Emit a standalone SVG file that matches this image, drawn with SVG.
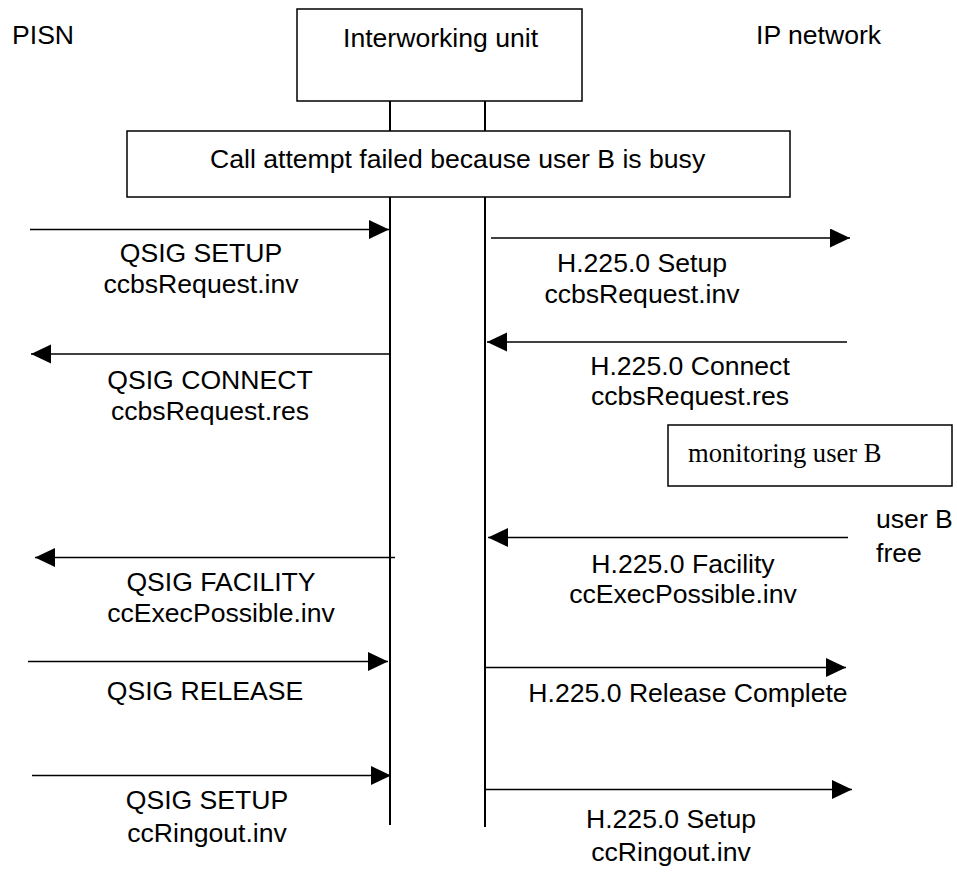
<svg xmlns="http://www.w3.org/2000/svg" width="957" height="872" viewBox="0 0 957 872">
<style>
  .t{font-family:"Liberation Sans",Arial,sans-serif;font-size:26.6px;fill:#000}
  .c{text-anchor:middle}
  .s{font-family:"Liberation Serif","Times New Roman",serif;font-size:26.6px;fill:#000}
  .box{fill:#fff;stroke:#000;stroke-width:1.5}
  .life{stroke:#000;stroke-width:2;fill:none}
  .msg{stroke:#000;stroke-width:1.5;fill:none;marker-end:url(#ah)}
</style>
<defs>
  <marker id="ah" markerUnits="userSpaceOnUse" markerWidth="22" markerHeight="20" refX="20" refY="9.5" orient="auto">
    <path d="M0,0 L20,9.5 L0,19 Z" fill="#000"/>
  </marker>
</defs>
<rect width="957" height="872" fill="#fff"/>

<g id="pisn"><text class="t" x="12" y="44">PISN</text></g>
<g id="ipnet"><text class="t" x="756" y="44">IP network</text></g>

<g id="iwu">
  <rect class="box" x="297" y="9" width="285" height="92"/>
  <text class="t" x="343" y="47">Interworking unit</text>
</g>

<g id="lifelines">
  <line class="life" x1="390" y1="101" x2="390" y2="131"/>
  <line class="life" x1="485" y1="101" x2="485" y2="131"/>
  <line class="life" x1="390" y1="197" x2="390" y2="825"/>
  <line class="life" x1="485" y1="197" x2="485" y2="827"/>
</g>

<g id="busy">
  <rect class="box" x="127" y="131" width="663" height="66"/>
  <text class="t" x="210" y="168">Call attempt failed because user B is busy</text>
</g>

<g id="monitor">
  <rect class="box" x="668" y="425" width="284" height="61"/>
  <text class="s" x="688" y="462">monitoring user B</text>
</g>

<g id="userfree">
  <text class="t" x="876" y="528">user B</text>
  <text class="t" x="876" y="562">free</text>
</g>

<g id="connectors">
  <line class="msg" x1="30" y1="229.5" x2="389" y2="229.5"/>
  <line class="msg" x1="390" y1="354" x2="31" y2="354"/>
  <line class="msg" x1="491" y1="238" x2="850" y2="238"/>
  <line class="msg" x1="847" y1="342" x2="487" y2="342"/>
  <line class="msg" x1="848" y1="537.5" x2="488" y2="537.5"/>
  <line class="msg" x1="395" y1="557.5" x2="35" y2="557.5"/>
  <line class="msg" x1="28" y1="661.5" x2="388" y2="661.5"/>
  <line class="msg" x1="485" y1="667.5" x2="846" y2="667.5"/>
  <line class="msg" x1="32" y1="775.5" x2="391" y2="775.5"/>
  <line class="msg" x1="485" y1="789.5" x2="852" y2="789.5"/>
</g>

<g id="labels">
  <text class="t c" x="201" y="262">QSIG SETUP</text>
  <text class="t c" x="201" y="293">ccbsRequest.inv</text>
  <text class="t c" x="210" y="389">QSIG CONNECT</text>
  <text class="t c" x="210" y="420">ccbsRequest.res</text>
  <text class="t c" x="642" y="272">H.225.0 Setup</text>
  <text class="t c" x="642" y="303">ccbsRequest.inv</text>
  <text class="t c" x="690" y="375">H.225.0 Connect</text>
  <text class="t c" x="690" y="405">ccbsRequest.res</text>
  <text class="t c" x="683" y="573">H.225.0 Facility</text>
  <text class="t c" x="683" y="603">ccExecPossible.inv</text>
  <text class="t c" x="221" y="591">QSIG FACILITY</text>
  <text class="t c" x="221" y="622">ccExecPossible.inv</text>
  <text class="t c" x="205" y="700">QSIG RELEASE</text>
  <text class="t c" x="688" y="702">H.225.0 Release Complete</text>
  <text class="t c" x="207" y="809">QSIG SETUP</text>
  <text class="t c" x="207" y="842">ccRingout.inv</text>
  <text class="t c" x="671" y="828">H.225.0 Setup</text>
  <text class="t c" x="671" y="861">ccRingout.inv</text>
</g>
</svg>
